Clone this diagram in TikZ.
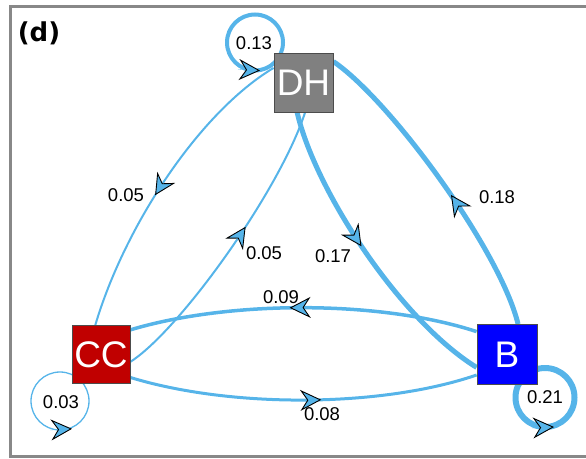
\documentclass[tikz,border=0pt]{standalone}
\usepackage{fontspec}
\setmainfont{Liberation Sans}
\newfontfamily\dejab{DejaVu Sans}
\usetikzlibrary{arrows.meta,decorations.markings}
\definecolor{skyb}{RGB}{86,180,233}
\definecolor{ccred}{RGB}{192,0,0}
\definecolor{dhgray}{RGB}{128,128,128}
\definecolor{framegray}{RGB}{136,136,136}
\pgfdeclarelayer{edges}
\pgfsetlayers{edges,main}
\tikzset{
  kite/.tip={Stealth[length=21pt,width=21pt,inset=7pt,fill=skyb,color=black,line width=0.9pt]},
  state/.style={draw=black!70,line width=0.8pt,minimum size=59pt,inner sep=0pt,text=white,font=\fontsize{37}{37}\selectfont},
  lbl/.style={font=\fontsize{18.5}{18.5}\selectfont,inner sep=0pt},
  conn/.style={draw=skyb,decoration={markings,mark=at position #1 with {\arrow{kite}}},postaction=decorate},
  conn/.default=0.5,
  loopc/.style={draw=skyb},
  looparr/.style={draw=skyb,line width=0.3pt,-{kite}}
}
\begin{document}
\begin{tikzpicture}[x=1pt,y=-1pt]
\useasboundingbox (0,0) rectangle (586,458);
\draw[framegray,line width=3pt] (586,6.5) -- (10,6.5) -- (10,456.5) -- (586,456.5);
\node[font=\dejab\bfseries\fontsize{26}{26}\selectfont,inner sep=0pt] (title) at (39,33) {(d)};

% states
\node[state,fill=dhgray] (DH) at (303.5,82.5) {DH};
\node[state,fill=ccred,minimum size=58pt] (CC) at (101,354.5) {CC};
\node[state,fill=blue,minimum size=60pt] (B) at (507,354.5) {B};

% loop centres
\coordinate (lDH) at (255,42.5);
\coordinate (lCC) at (60,401);
\coordinate (lB) at (545,397.5);
\coordinate (aDHs) at (238,69.5);
\coordinate (aDHe) at (260,70.5);
\coordinate (aCCs) at (50,430);
\coordinate (aCCe) at (72,428.8);
\coordinate (aBs) at (532,428);
\coordinate (aBe) at (554,427);

\begin{pgfonlayer}{edges}
  \draw[loopc,line width=4pt] (lDH) circle[radius=28pt];
  \draw[loopc,line width=1.3pt] (lCC) circle[radius=29pt];
  \draw[loopc,line width=6pt] (lB) circle[radius=29.5pt];
  \draw[looparr] (aDHs) -- (aDHe);
  \draw[looparr] (aCCs) -- (aCCe);
  \draw[looparr] (aBs) -- (aBe);

  \draw[conn=0.55,line width=2pt] (DH.154) .. controls (200,112) and (125,225) .. (CC.101);
  \draw[conn=0.58,line width=2pt] (CC.-14) .. controls (180,330) and (280,190) .. (DH.-87);
  \draw[conn=0.47,line width=5pt] (DH.-102) .. controls (315,190) and (400,320) .. (B.203);
  \draw[conn=0.45,line width=5pt] (B.70) .. controls (500,250) and (390,100) .. (DH.35);
  \draw[conn=0.54,line width=3.5pt] (B.143) .. controls (380,300) and (230,300) .. (CC.40);
  \draw[conn=0.55,line width=3pt] (CC.-38) .. controls (230,408) and (380,408) .. (B.214);
\end{pgfonlayer}

% labels
\node[lbl] (w13) at (254,43) {0.13};
\node[lbl] (w03) at (61,402) {0.03};
\node[lbl] (w21) at (545,397.5) {0.21};
\node[lbl] (w05a) at (126,195) {0.05};
\node[lbl] (w05b) at (264,253) {0.05};
\node[lbl] (w17) at (333,256) {0.17};
\node[lbl] (w18) at (497,197) {0.18};
\node[lbl] (w09) at (281,297) {0.09};
\node[lbl] (w08) at (322,414) {0.08};
\end{tikzpicture}
\end{document}
